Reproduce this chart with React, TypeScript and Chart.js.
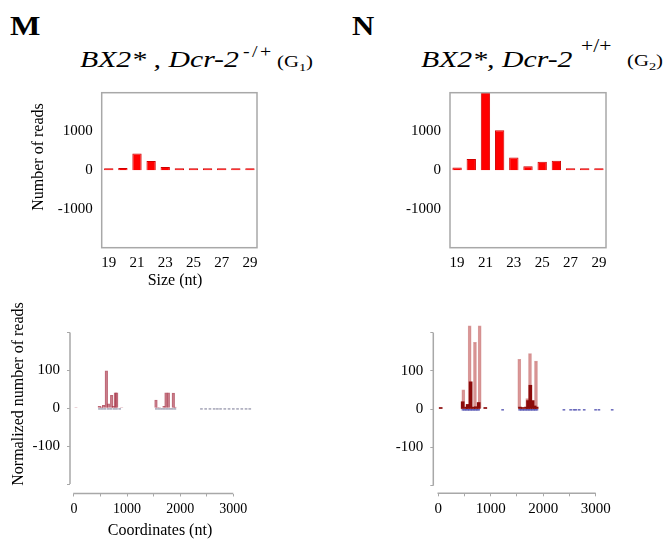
import React, { useEffect, useRef } from 'react';
import { Chart, registerables } from 'chart.js';

Chart.register(...registerables);

const SERIF = "'Liberation Serif', 'Times New Roman', serif";
Chart.defaults.font.family = SERIF;
Chart.defaults.color = '#000';

// ---------- Data ----------
const sizeCategories = ['19', '20', '21', '22', '23', '24', '25', '26', '27', '28', '29'];
const sizeTickLabels = ['19', '', '21', '', '23', '', '25', '', '27', '', '29'];
const sizeYTicks = [-2000, -1000, 0, 1000, 2000];
const readsM = [15, 60, 430, 240, 80, 20, 50, 45, 20, 12, 10];
const readsN = [70, 290, 2300, 1030, 330, 105, 220, 245, 25, 10, 15];

const coordXTicks = [0, 500, 1000, 1500, 2000, 2500, 3000];
const coordYTicks = [-200, -100, 0, 100, 200];

// M – coordinates (normalized reads)
const mCoordPos = [38, 477, 515, 558, 609, 647, 710, 741, 779, 804, 898, 1544, 1575, 1610, 1695, 1733, 1776, 1870, 1902];
const mCoordVal = [2, 5, 4, 8, 99, 12, 34, 5, 41, 41, 2, 22, 2, 2, 5, 41, 41, 40, 3];
const mDotPos = [480, 530, 580, 640, 690, 750, 800, 860, 1550, 1600, 1650, 1700, 1750, 1800, 1850, 1900, 2400, 2480, 2560, 2640, 2700, 2760, 2840, 2920, 3000, 3080, 3160, 3240, 3310];
const mDotVal = [-2, -2, -2, -2, -2, -2, -2, -2, -2, -2, -2, -2, -2, -2, -2, -2, -2, -2, -2, -2, -2, -2, -2, -2, -2, -2, -2, -2, -2];

// N – coordinates (normalized reads)
const nCoordPos = [477, 598, 699, 789, 1544, 1696, 1748, 1862];
const nCoordVal = [50, 217, 174, 217, 130, 27, 145, 125];
const nDarkPos = [46, 465, 528, 560, 617, 667, 718, 770, 896, 1557, 1608, 1671, 1710, 1754, 1799, 1837, 1875];
const nDarkVal = [4, 19, 5, 12, 71, 5, 6, 17, 4, 5, 4, 5, 22, 62, 22, 8, 5];
const nBluePos = [470, 500, 530, 560, 590, 620, 650, 680, 710, 740, 770, 1226, 1550, 1580, 1610, 1640, 1670, 1700, 1730, 1760, 1790, 1820, 1850, 1880, 2394, 2522, 2585, 2623, 2686, 2781, 2998, 3061, 3314];
const nBlueVal = [-3, -3, -3, -3, -3, -3, -3, -3, -3, -3, -3, -3, -3, -3, -3, -3, -3, -3, -3, -3, -3, -3, -3, -3, -3, -3, -3, -3, -3, -3, -3, -3, -3];

const zip = (xs: number[], ys: number[]) => xs.map((x, i) => ({ x, y: ys[i] }));

// ---------- Plugins ----------
const boxPlugin = {
  id: 'box',
  afterDraw(chart: any, _a: any, opts: any) {
    const { ctx, chartArea: a } = chart;
    ctx.save();
    ctx.strokeStyle = opts.color || '#aaa';
    ctx.lineWidth = 1.5;
    ctx.strokeRect(a.left, a.top, a.right - a.left, a.bottom - a.top);
    ctx.restore();
  },
};

const axisLinesPlugin = {
  id: 'axisLines',
  afterDraw(chart: any, _a: any, opts: any) {
    const { ctx, chartArea: a, scales } = chart;
    const x = scales.x;
    const y = scales.y;
    ctx.save();
    ctx.strokeStyle = opts.color || '#aaa';
    ctx.lineWidth = 1.5;
    ctx.beginPath();
    ctx.moveTo(a.left, y.getPixelForValue(opts.yFrom));
    ctx.lineTo(a.left, y.getPixelForValue(opts.yTo));
    ctx.moveTo(x.getPixelForValue(opts.xFrom), a.bottom);
    ctx.lineTo(x.getPixelForValue(opts.xTo), a.bottom);
    ctx.stroke();
    ctx.restore();
  },
};

const noOverhang = (s: any) => {
  s.paddingTop = 0;
  s.paddingBottom = 0;
  s.paddingLeft = 0;
  s.paddingRight = 0;
};

// ---------- Configs ----------
function sizeConfig(values: number[], yAxisWidth: number, padRight: number) {
  return {
    type: 'bar',
    data: {
      labels: sizeCategories,
      datasets: [
        {
          data: values,
          backgroundColor: '#ff0000',
          borderColor: '#d00000',
          borderWidth: 1,
          barPercentage: 0.66,
          categoryPercentage: 1,
          minBarLength: 2,
        },
      ],
    },
    options: {
      responsive: false,
      animation: false,
      layout: { padding: { top: 7.7, right: padRight, left: 0, bottom: 0 } },
      plugins: { legend: { display: false }, tooltip: { enabled: false }, box: { color: '#a8a8a8' } },
      scales: {
        x: {
          grid: { display: false, drawTicks: false },
          border: { display: false },
          ticks: {
            autoSkip: false,
            maxRotation: 0,
            padding: 6,
            font: { size: 15 },
            callback: (_v: any, i: number) => sizeTickLabels[i],
          },
          afterFit: (s: any) => {
            s.height = 37.3;
            noOverhang(s);
          },
        },
        y: {
          min: -2000,
          max: 2000,
          grid: { display: false, drawTicks: false },
          border: { display: false },
          afterBuildTicks: (s: any) => {
            s.ticks = sizeYTicks.map((v) => ({ value: v }));
          },
          ticks: {
            padding: 9,
            font: { size: 15 },
            callback: (v: any) => (Math.abs(v) === 2000 ? '' : String(v)),
          },
          afterFit: (s: any) => {
            s.width = yAxisWidth;
            noOverhang(s);
          },
        },
      },
    },
    plugins: [boxPlugin],
  };
}

function coordConfig(
  datasets: any[],
  o: { xMin: number; yMin: number; yAxisWidth: number; xAxisHeight: number; padTop: number; padRight: number; xFont: number }
) {
  return {
    type: 'bar',
    data: { datasets },
    options: {
      responsive: false,
      animation: false,
      layout: { padding: { top: o.padTop, right: o.padRight, left: 0, bottom: 0 } },
      plugins: {
        legend: { display: false },
        tooltip: { enabled: false },
        axisLines: { color: '#a8a8a8', yFrom: 200, yTo: -200, xFrom: -15, xTo: 3000 },
      },
      scales: {
        x: {
          type: 'linear',
          min: o.xMin,
          max: 3000,
          offset: false,
          grid: { display: true, offset: false, drawOnChartArea: false, drawTicks: true, tickLength: 3, color: '#a8a8a8' },
          border: { display: false },
          afterBuildTicks: (s: any) => {
            s.ticks = coordXTicks.map((v) => ({ value: v }));
          },
          ticks: {
            padding: 4,
            maxRotation: 0,
            autoSkip: false,
            font: { size: o.xFont },
            callback: (v: any) => (v % 1000 === 0 ? String(v) : ''),
          },
          afterFit: (s: any) => {
            s.height = o.xAxisHeight;
            noOverhang(s);
          },
        },
        y: {
          min: o.yMin,
          max: 200,
          grid: { display: true, drawOnChartArea: false, drawTicks: true, tickLength: 3, color: '#a8a8a8' },
          border: { display: false },
          afterBuildTicks: (s: any) => {
            s.ticks = coordYTicks.map((v) => ({ value: v }));
          },
          ticks: {
            padding: 7,
            font: { size: 15 },
            callback: (v: any) => (Math.abs(v) === 200 ? '' : String(v)),
          },
          afterFit: (s: any) => {
            s.width = o.yAxisWidth;
            noOverhang(s);
          },
        },
      },
    },
    plugins: [axisLinesPlugin],
  };
}

const barCommon = { grouped: false, clip: false, barThickness: 3 };

const mCoordDatasets = [
  {
    ...barCommon,
    barThickness: 2.6,
    data: zip(mCoordPos, mCoordVal),
    backgroundColor: 'rgba(225,165,175,0.3)',
    borderColor: 'rgba(165,50,70,0.75)',
    borderWidth: 1,
    order: 2,
  },
  {
    ...barCommon,
    barThickness: 2,
    data: zip(mDotPos, mDotVal),
    backgroundColor: '#6a6a88',
    borderWidth: 0,
    order: 1,
  },
];

const nCoordDatasets = [
  {
    ...barCommon,
    data: zip(nCoordPos, nCoordVal),
    backgroundColor: 'rgba(200,90,90,0.38)',
    borderColor: 'rgba(180,60,60,0.5)',
    borderWidth: 1,
    order: 3,
  },
  {
    ...barCommon,
    data: zip(nDarkPos, nDarkVal),
    backgroundColor: '#8b0a0a',
    borderWidth: 0,
    order: 2,
  },
  {
    ...barCommon,
    barThickness: 2,
    data: zip(nBluePos, nBlueVal),
    backgroundColor: '#5050b0',
    borderWidth: 0,
    order: 1,
  },
];

// ---------- Components ----------
function ChartCanvas({ left, top, width, height, config }: any) {
  const ref = useRef<HTMLCanvasElement | null>(null);
  useEffect(() => {
    const c = new Chart(ref.current as HTMLCanvasElement, config);
    return () => c.destroy();
  }, []);
  return (
    <div style={{ position: 'absolute', left, top, width, height }}>
      <canvas ref={ref} width={width} height={height} style={{ display: 'block', width, height }} />
    </div>
  );
}

function Txt({ left, top, size, italic, bold, sx, ls, children }: any) {
  return (
    <div
      style={{
        position: 'absolute',
        left,
        top,
        fontSize: size,
        lineHeight: 1,
        whiteSpace: 'nowrap',
        fontFamily: SERIF,
        fontStyle: italic ? 'italic' : 'normal',
        fontWeight: bold ? 'bold' : 'normal',
        transform: sx ? `scaleX(${sx})` : undefined,
        transformOrigin: 'left top',
        letterSpacing: ls,
        color: '#000',
      }}
    >
      {children}
    </div>
  );
}

function VTitle({ cx, cy, children }: any) {
  return (
    <div
      style={{
        position: 'absolute',
        left: cx,
        top: cy,
        fontSize: 16,
        lineHeight: 1,
        whiteSpace: 'nowrap',
        fontFamily: SERIF,
        transform: 'translate(-50%, -50%) rotate(-90deg)',
        color: '#000',
      }}
    >
      {children}
    </div>
  );
}

function HTitle({ cx, top, children }: any) {
  return (
    <div
      style={{
        position: 'absolute',
        left: cx,
        top,
        fontSize: 16,
        lineHeight: 1,
        whiteSpace: 'nowrap',
        fontFamily: SERIF,
        transform: 'translateX(-50%)',
        color: '#000',
      }}
    >
      {children}
    </div>
  );
}

export default function App() {
  return (
    <div style={{ position: 'absolute', left: 0, top: 0, width: 668, height: 543, background: '#fff', overflow: 'hidden' }}>
      {/* Panel letters */}
      <Txt left={10} top={11.5} size={28} bold sx={1.15}>M</Txt>
      <Txt left={352} top={11.5} size={28} bold sx={1.1}>N</Txt>

      {/* Subtitles */}
      <Txt left={80} top={46.6} size={24} italic sx={1.24}>BX2* , Dcr-2</Txt>
      <Txt left={243} top={44} size={16} sx={1.24} ls={2}>-/+</Txt>
      <Txt left={277} top={53.6} size={16} sx={1.3}>
        (G<span style={{ fontSize: 11, position: 'relative', top: 4 }}>1</span>)
      </Txt>

      <Txt left={421} top={46.6} size={24} italic sx={1.24}>BX2*, Dcr-2</Txt>
      <Txt left={581} top={36.9} size={18} sx={1.2}>+/+</Txt>
      <Txt left={627} top={52.6} size={16} sx={1.3}>
        (G<span style={{ fontSize: 11, position: 'relative', top: 4 }}>2</span>)
      </Txt>

      {/* Charts */}
      <ChartCanvas left={40} top={85} width={230} height={200} config={sizeConfig(readsM, 61.7, 13)} />
      <ChartCanvas left={390} top={85} width={230} height={200} config={sizeConfig(readsN, 60, 14)} />
      <ChartCanvas
        left={10}
        top={300}
        width={260}
        height={230}
        config={coordConfig(mCoordDatasets, { xMin: -75, yMin: -225, yAxisWidth: 60, xAxisHeight: 36.5, padTop: 32.6, padRight: 36.7, xFont: 14 })}
      />
      <ChartCanvas
        left={375}
        top={300}
        width={270}
        height={230}
        config={coordConfig(nCoordDatasets, { xMin: -95, yMin: -220, yAxisWidth: 58.3, xAxisHeight: 36.7, padTop: 32.4, padRight: 49.3, xFont: 15 })}
      />

      {/* Axis titles */}
      <VTitle cx={38.3} cy={156.7}>Number of reads</VTitle>
      <HTitle cx={175} top={271.6}>Size (nt)</HTitle>
      <VTitle cx={18.3} cy={394}>Normalized number of reads</VTitle>
      <HTitle cx={160} top={521.6}>Coordinates (nt)</HTitle>
    </div>
  );
}
